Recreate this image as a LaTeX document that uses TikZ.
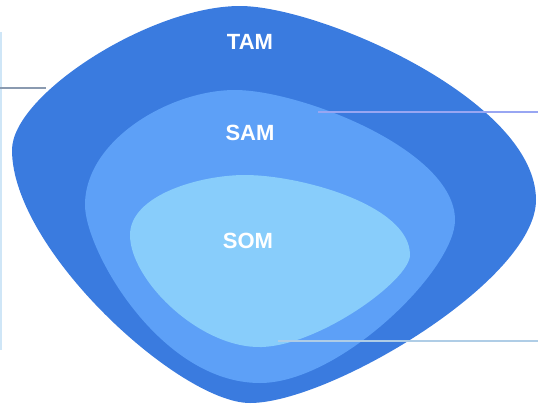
\documentclass[tikz,border=0pt]{standalone}
\usepackage{fontspec}
\setmainfont{Liberation Sans}
\usetikzlibrary{positioning}
\definecolor{tamblue}{HTML}{3A7BDF}
\definecolor{samblue}{HTML}{5DA0F7}
\definecolor{somblue}{HTML}{88CDFB}
\definecolor{barcol}{HTML}{CFE6F7}
\definecolor{tamline}{HTML}{8A9AB0}
\definecolor{samline}{HTML}{98A6F2}
\definecolor{somline}{HTML}{AFCDE6}

\begin{document}
\begin{tikzpicture}[x=1pt,y=-1pt,
  mktlabel/.style={text=white,font=\bfseries\fontsize{22}{22}\selectfont},
  leader/.style={line width=1.3pt}]
 \useasboundingbox (0,0) rectangle (538,413);
 % market blobs
 \fill[tamblue] (12,150) .. controls (12,95) and (150,6) .. (240,6)
   .. controls (320,6) and (536,100) .. (536,200)
   .. controls (536,280) and (330,403) .. (250,403)
   .. controls (180,403) and (12,250) .. (12,150) -- cycle;
 \fill[samblue] (85,205) .. controls (85,140) and (170,90) .. (235,90)
   .. controls (300,90) and (455,150) .. (455,220)
   .. controls (455,270) and (340,383) .. (260,383)
   .. controls (160,383) and (85,250) .. (85,205) -- cycle;
 \fill[somblue] (130,235) .. controls (130,195) and (200,175) .. (245,175)
   .. controls (300,175) and (410,205) .. (410,255)
   .. controls (410,280) and (320,345) .. (262,347)
   .. controls (200,349) and (130,280) .. (130,235) -- cycle;
 % labels
 \node[mktlabel] (tam) at (250,42) {TAM};
 \node[mktlabel] (sam) at (250,133) {SAM};
 \node[mktlabel] (som) at (248,241) {SOM};
 % leader lines
 \coordinate (bartop) at (1,32);
 \coordinate (barbot) at (1,350);
 \coordinate (tamin) at (0,88);
 \coordinate (tamedge) at (46,88);
 \coordinate (samedge) at (318,112);
 \coordinate (samout) at (538,112);
 \coordinate (somedge) at (278,341);
 \coordinate (somout) at (538,341);
 \draw[leader,barcol] (bartop) -- (barbot);
 \draw[leader,tamline] (tamin) -- (tamedge);
 \draw[leader,samline] (samedge) -- (samout);
 \draw[leader,somline] (somedge) -- (somout);
\end{tikzpicture}
\end{document}
